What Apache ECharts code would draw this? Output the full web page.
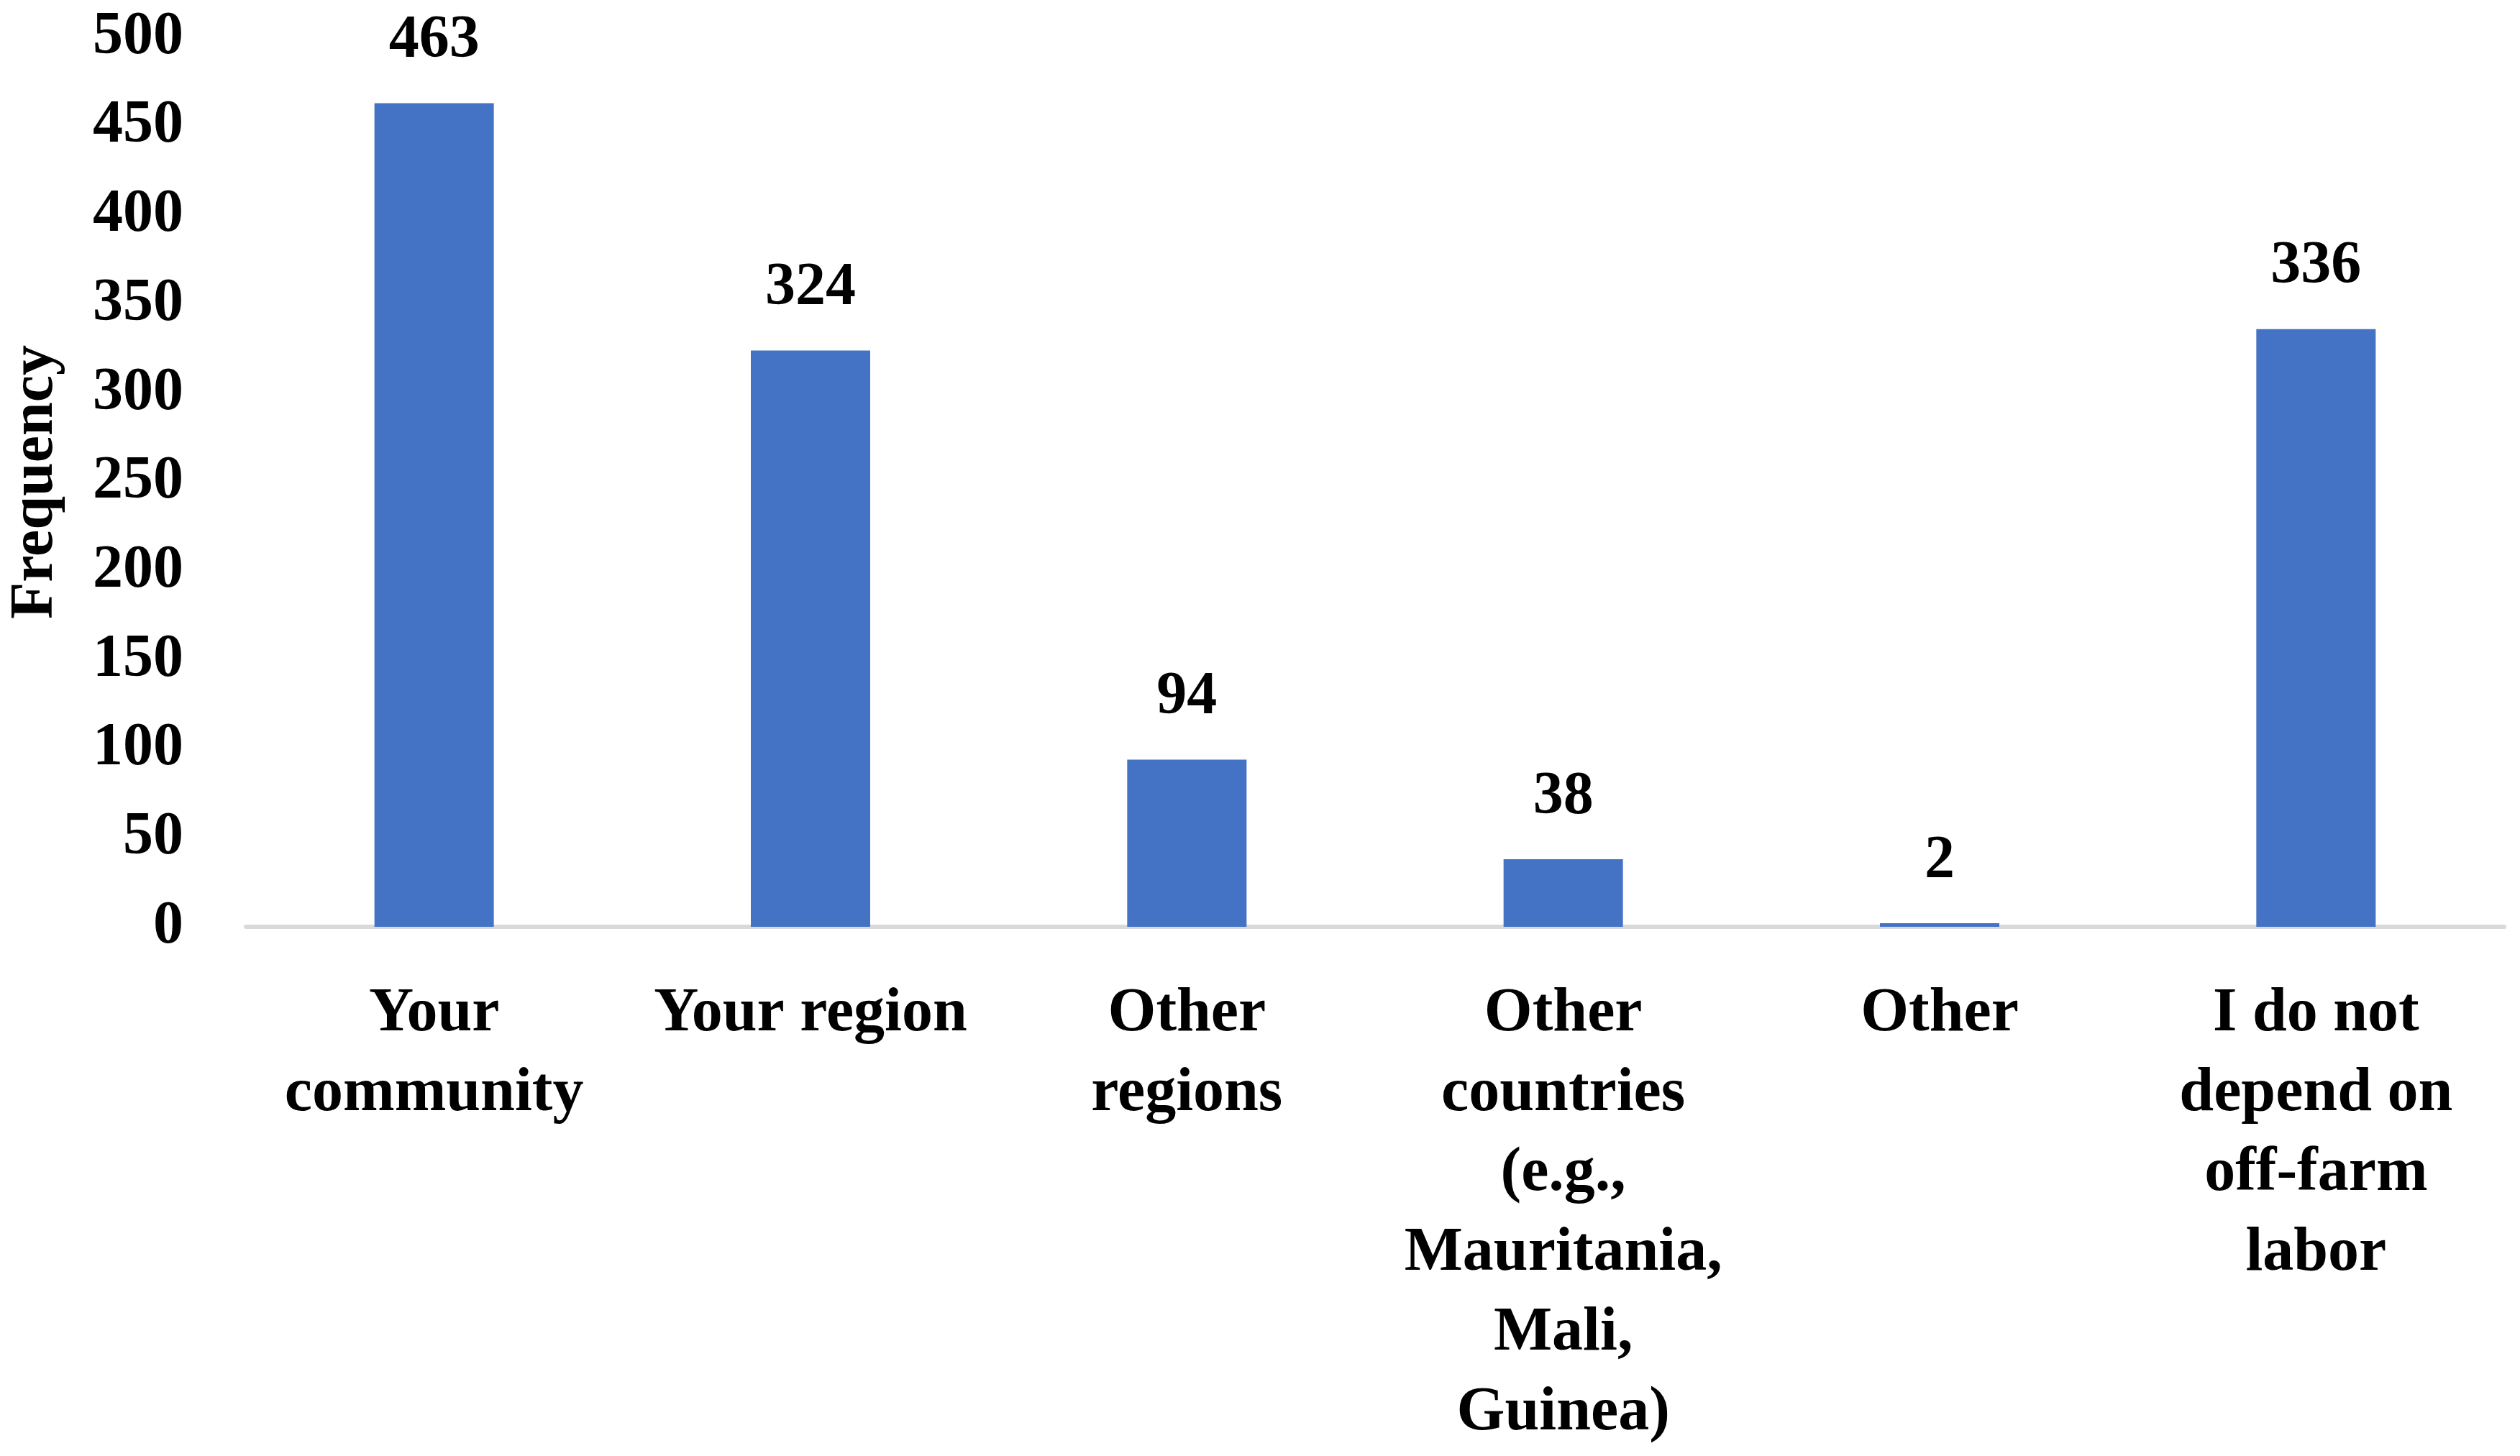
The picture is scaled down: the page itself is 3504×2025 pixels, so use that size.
<!DOCTYPE html>
<html><head><meta charset="utf-8">
<script src="https://cdn.jsdelivr.net/npm/echarts@6/dist/echarts.min.js"></script>
<style>html,body{margin:0;padding:0;background:#fff}#c{width:3504px;height:2025px}</style>
</head><body><div id="c"></div>
<script>
const categories = ["Your\ncommunity", "Your region", "Other\nregions", "Other\ncountries\n(e.g.,\nMauritania,\nMali,\nGuinea)", "Other", "I do not\ndepend on\noff-farm\nlabor"];
const frequency = [463, 324, 94, 38, 2, 336];
const yTicks = [0, 50, 100, 150, 200, 250, 300, 350, 400, 450, 500];

const FONT = '"Liberation Serif", "DejaVu Serif", serif';
const chart = echarts.init(document.getElementById('c'), null, {renderer: 'canvas'});
chart.setOption({
  animation: false,
  backgroundColor: '#ffffff',
  grid: {left: 337, right: 22, top: 52, bottom: 736, containLabel: false},
  xAxis: {
    type: 'category',
    data: categories,
    axisLine: {show: true, lineStyle: {color: '#D9D9D9', width: 6}},
    axisTick: {show: false},
    axisLabel: {
      interval: 0, margin: 66, color: '#000', fontFamily: FONT,
      fontWeight: 'bold', fontSize: 86, lineHeight: 111
    }
  },
  yAxis: {
    type: 'value',
    min: yTicks[0], max: yTicks[yTicks.length - 1], interval: 50,
    name: 'Frequency', nameLocation: 'middle', nameGap: 250, nameRotate: 90,
    nameTextStyle: {color: '#000', fontFamily: FONT, fontWeight: 'bold', fontSize: 84},
    axisLine: {show: false}, axisTick: {show: false}, splitLine: {show: false},
    axisLabel: {margin: 87, color: '#000', fontFamily: FONT, fontWeight: 'bold', fontSize: 84}
  },
  series: [{
    type: 'bar',
    data: frequency,
    barWidth: 166,
    itemStyle: {color: '#4472C4'},
    label: {show: true, position: 'top', distance: 44, color: '#000',
      fontFamily: FONT, fontWeight: 'bold', fontSize: 84}
  }]
});
</script></body></html>
